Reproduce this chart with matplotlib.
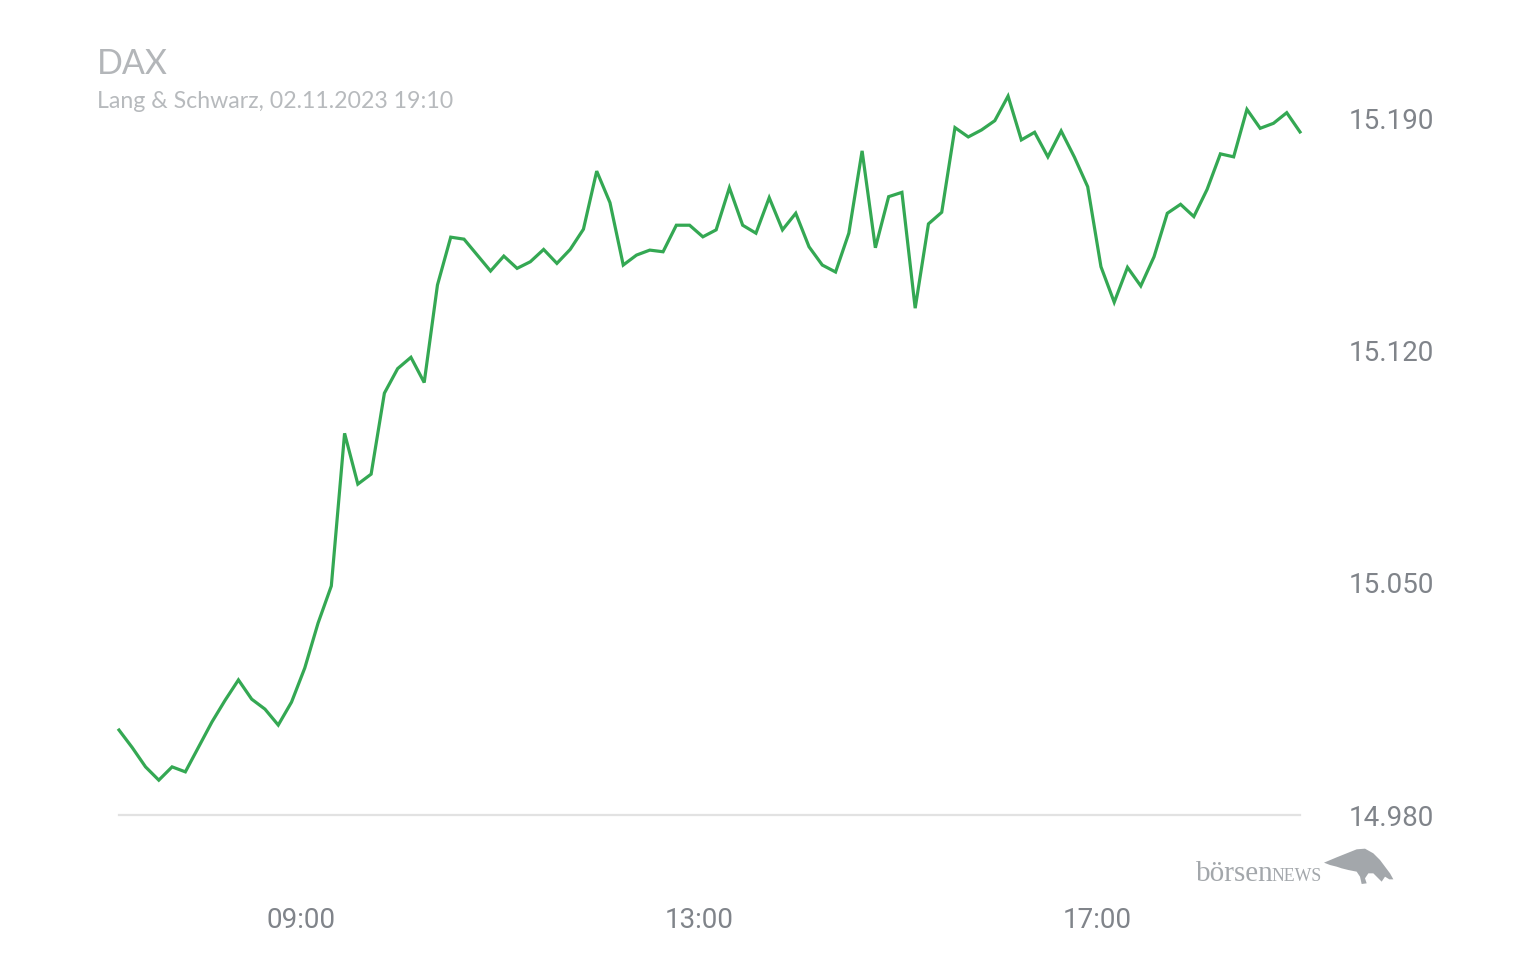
import matplotlib
matplotlib.use("Agg")
import matplotlib.pyplot as plt
from matplotlib.patches import Polygon
import pandas as pd

# ---- data (DAX, Lang & Schwarz, 02.11.2023, 8-minute intervals) ----
start_time = "2023-11-02 07:10"
step = "8min"
values = [
    15005.6, 15000.3, 14994.5, 14990.5, 14994.5, 14993.0, 15000.5, 15008.0, 15014.6, 15020.7,
    15014.9, 15011.9, 15007.1, 15014.0, 15024.3, 15037.8, 15049.0, 15095.0, 15079.7, 15082.7,
    15107.1, 15114.5, 15117.9, 15110.3, 15139.7, 15154.1, 15153.5, 15148.7, 15143.9, 15148.4,
    15144.7, 15146.7, 15150.4, 15146.2, 15150.4, 15156.5, 15174.0, 15164.5, 15145.7, 15148.7,
    15150.2, 15149.7, 15157.7, 15157.7, 15154.2, 15156.3, 15169.0, 15157.7, 15155.3, 15166.0,
    15156.3, 15161.3, 15151.2, 15145.7, 15143.6, 15155.3, 15180.1, 15150.9, 15166.3, 15167.6,
    15132.7, 15158.1, 15161.6, 15187.1, 15184.3, 15186.4, 15189.2, 15196.6, 15183.4, 15185.7,
    15178.3, 15186.1, 15178.2, 15169.3, 15145.2, 15134.5, 15145.0, 15139.4, 15148.2, 15161.3,
    15164.0, 15160.3, 15168.5, 15179.2, 15178.3, 15192.6, 15186.9, 15188.4, 15191.6, 15185.8,
]
y_ticks = [14980, 15050, 15120, 15190]
y_tick_labels = ["14.980", "15.050", "15.120", "15.190"]
x_ticks = ["2023-11-02 09:00", "2023-11-02 13:00", "2023-11-02 17:00"]
x_tick_labels = ["09:00", "13:00", "17:00"]
title = "DAX"
subtitle = "Lang & Schwarz, 02.11.2023 19:10"

times = pd.date_range(start_time, periods=len(values), freq=step)

W, H = 1536, 960
fig = plt.figure(figsize=(W / 100, H / 100), dpi=100)
fig.patch.set_facecolor("white")

left_px, right_px, top_px, bottom_px = 119, 1300, 90, 815
ax = fig.add_axes([left_px / W, 1 - bottom_px / H,
                   (right_px - left_px) / W, (bottom_px - top_px) / H])
ax.set_facecolor("white")

ax.plot(times, values, color="#34a853", lw=2.3, solid_joinstyle="miter",
        clip_on=False, zorder=3)

ax.set_xlim(times[0], times[-1])
ax.set_ylim(14980, 14980 + (bottom_px - top_px) / 3.319)

ax.axhline(14980, color="#e2e2e2", lw=1.6, zorder=1, clip_on=False)

for s in ax.spines.values():
    s.set_visible(False)

ax.yaxis.tick_right()
ax.set_yticks(y_ticks)
ax.set_yticklabels(y_tick_labels)
ax.set_xticks(pd.to_datetime(x_ticks))
ax.set_xticklabels(x_tick_labels)
ax.tick_params(axis="y", length=0, pad=35, labelsize=20, labelcolor="#80848a")
ax.tick_params(axis="x", length=0, pad=66, labelsize=20, labelcolor="#80848a")
for lab in ax.get_xticklabels() + ax.get_yticklabels():
    lab.set_fontfamily(["Roboto", "DejaVu Sans"])

# titles
fig.text(97 / W, 1 - 64 / H, title, fontsize=24.5, color="#b3b6b9",
         family=["Lato", "DejaVu Sans"], va="center", ha="left")
fig.text(97 / W, 1 - 101 / H, subtitle, fontsize=16.7, color="#b7babd",
         family=["Lato", "DejaVu Sans"], va="center", ha="left")

# boersenNEWS logo
fig.text(1196 / W, 1 - 881 / H, "börsen", fontsize=21, color="#a3a7ab",
         family=["Liberation Serif", "DejaVu Serif"], va="baseline", ha="left")
fig.text(1322 / W, 1 - 881 / H, "NEWS", fontsize=12.8, color="#a3a7ab",
         family=["Liberation Serif", "DejaVu Serif"], va="baseline", ha="right")

bull_zoom = [(432, 128), (470, 112), (500, 100), (530, 88), (555, 86), (580, 100),
             (600, 120), (615, 140), (630, 160), (640, 178), (628, 178), (615, 170),
             (605, 185), (595, 175), (580, 160), (565, 160), (555, 175), (560, 190),
             (545, 192), (540, 170), (530, 155), (505, 150), (485, 145), (470, 140),
             (450, 135)]
bull_pts = [((1180 + zx / 3) / W, 1 - (820 + zy / 3) / H) for zx, zy in bull_zoom]
fig.patches.append(Polygon(bull_pts, closed=True, transform=fig.transFigure,
                           facecolor="#a3a7ab", edgecolor="none"))

fig.savefig("out.png", dpi=100, facecolor="white")
